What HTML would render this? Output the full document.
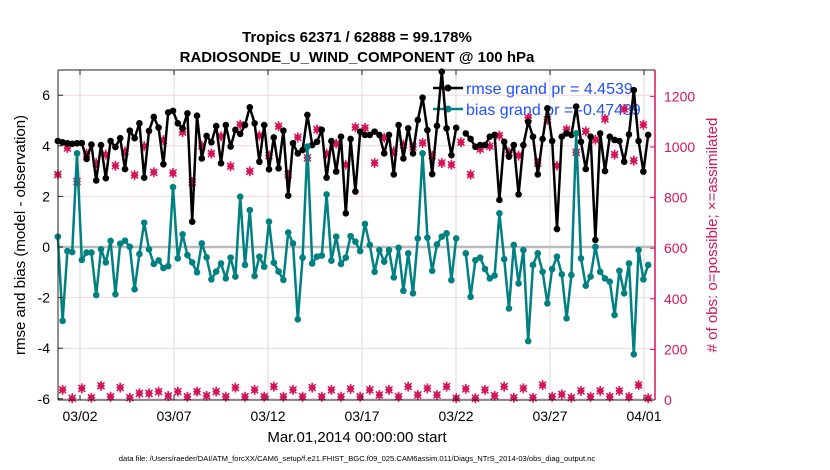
<!DOCTYPE html>
<html><head><meta charset="utf-8"><style>
body{margin:0;background:#fff;}
svg{display:block;font-family:"Liberation Sans",sans-serif;}
</style></head><body>
<svg id="chart" width="830" height="470" xmlns="http://www.w3.org/2000/svg">
<text x="357" y="42" text-anchor="middle" font-size="15" font-weight="bold">Tropics 62371 / 62888 = 99.178%</text>
<text x="357" y="62" text-anchor="middle" font-size="15" font-weight="bold">RADIOSONDE_U_WIND_COMPONENT @ 100 hPa</text>
<g id="grid"></g>
<g id="legend">
<line x1="433" y1="88" x2="463" y2="88" stroke="#000" stroke-width="2.5"/><circle cx="448" cy="88" r="3.5" fill="#000"/>
<text x="466" y="94" font-size="16" fill="#1f4fff">rmse grand pr = 4.4539</text>
<line x1="433" y1="109" x2="463" y2="109" stroke="#008080" stroke-width="2.5"/><circle cx="448" cy="109" r="3.5" fill="#008080"/>
<text x="466" y="115" font-size="16" fill="#1f4fff">bias grand pr = -0.47489</text>
</g>
<g id="marks"></g>
<g id="axes"></g>
<text x="357" y="442" text-anchor="middle" font-size="15">Mar.01,2014 00:00:00 start</text>
<text transform="translate(25,235) rotate(-90)" text-anchor="middle" font-size="15">rmse and bias (model - observation)</text>
<text transform="translate(717,235) rotate(-90)" text-anchor="middle" font-size="15" fill="#d6145a"># of obs: o=possible; ×=assimilated</text>
<text x="357" y="461" text-anchor="middle" font-size="7.6">data file: /Users/raeder/DAI/ATM_forcXX/CAM6_setup/f.e21.FHIST_BGC.f09_025.CAM6assim.011/Diags_NTrS_2014-03/obs_diag_output.nc</text>
</svg>
<script>
const rmse=[4.19,4.14,4.1,4.08,4.1,4.11,3.48,4.05,2.63,4.03,2.72,4.19,3.95,4.30,3.08,4.60,4.3,4.89,2.74,4.59,5.14,4.72,3.27,5.32,5.38,4.89,4.69,5.28,1.0,5.19,3.50,4.39,4.14,4.78,
3.31,4.82,3.97,4.63,4.47,4.82,5.52,4.89,3.37,4.82,3.07,4.33,3.11,4.60,2.03,4.10,3.70,3.83,5.22,4.03,4.16,4.63,2.74,4.19,2.98,4.36,1.33,4.27,2.19,4.56,4.43,
4.43,4.56,4.43,3.70,4.43,2.87,4.82,3.50,4.69,3.70,5.02,5.90,4.62,2.88,4.79,6.93,4.69,3.63,4.71,null,4.49,4.27,3.96,4.03,4.03,4.36,4.43,1.86,4.16,3.57,4.03,
2.08,4.03,4.95,4.36,2.87,4.27,5.48,4.19,0.71,4.36,4.49,4.43,5.55,4.16,3.08,4.36,0.28,4.49,3.0,4.36,4.23,4.19,3.37,4.45,6.20,4.19,2.98,4.43];
const bias=[0.41,-2.92,-0.16,-0.2,3.70,-0.51,-0.22,-0.22,-1.90,-0.09,-0.61,0.24,-1.87,0.13,0.25,0.01,-1.67,-0.28,0.96,-0.09,-0.67,-0.53,-0.83,-0.76,2.37,-0.45,0.50,-0.32,-0.61,-1.0,0.14,-0.41,-1.28,-0.97,
-0.65,-1.24,-0.42,-1.17,1.99,-0.71,1.46,-1.15,-0.38,-0.78,1.0,-0.62,-0.97,-1.30,0.57,0.14,-2.86,-0.42,3.97,-0.65,-0.38,-0.34,2.08,-0.54,0.41,-0.67,-0.42,0.43,0.21,-0.16,0.91,
0.08,-0.98,-0.12,-0.58,-0.12,-1.20,-0.03,-1.73,-0.25,-1.83,0.34,3.7,0.37,-0.94,0.10,0.41,0.54,-1.31,0.34,null,-0.25,-1.97,-0.52,-0.42,-0.87,-1.24,-1.13,1.33,-0.48,-2.43,0.08,
-1.44,-0.12,-3.72,-0.71,-0.25,-0.98,-2.23,-0.87,-0.38,-1.08,-2.82,-1.11,4.49,-0.45,-1.53,-1.17,0.01,-0.98,-1.24,-1.37,-2.69,-0.94,-1.83,-0.65,-4.24,-0.12,-1.28,-0.71];
const obsHigh=[891,996,864,974,937,970,926,982,889,1003,900,1027,897,1059,861,1005,974,
1042,924,1088,904,1045,966,1082,891,1038,957,1069,974,1013,930,1078,
1075,937,1036,983,1009,1000,1016,966,937,930,1019,891,992,1003,1045,979,
966,1115,937,1108,926,1069,979,1062,1029,1111,970,1150,946,1088];
const obsLow=[40,7,46,9,56,13,49,9,26,26,33,16,33,13,33,17,
33,13,49,13,40,13,53,13,40,13,49,13,40,13,44,13,
40,20,40,13,53,20,46,20,53,7,44,7,40,17,53,
9,46,9,59,13,22,9,36,13,36,13,36,13,59,7];
const xTickDays=[1,6,11,16,21,26,31];
const xTickLabels=['03/02','03/07','03/12','03/17','03/22','03/27','04/01'];
const yTicks=[-6,-4,-2,0,2,4,6];
const yRightTicks=[0,200,400,600,800,1000,1200];
const t0=-0.18, dt=0.2553;
const L=58,R=655,T=70,B=400;
const xS=d=>61.2+d*18.8;
const yS=v=>247-v*25.3;
const yR=v=>400-v*0.253;
const NS='http://www.w3.org/2000/svg';
function mk(tag,attrs,parent){const e=document.createElementNS(NS,tag);for(const k in attrs)e.setAttribute(k,attrs[k]);parent.appendChild(e);return e;}
const grid=document.getElementById('grid'),marks=document.getElementById('marks'),axes=document.getElementById('axes');
xTickDays.forEach((d,i)=>{
 const g=mk('line',{x1:xS(d),x2:xS(d),y1:T,y2:B,stroke:'#d8d8d8','stroke-width':1},grid);
 
 
 mk('line',{x1:xS(d),x2:xS(d),y1:T,y2:T+5,stroke:'#222'},axes);
 mk('line',{x1:xS(d),x2:xS(d),y1:B,y2:B-5,stroke:'#222'},axes);
 const t=mk('text',{x:xS(d),y:421,'text-anchor':'middle','font-size':14},axes);
 t.textContent=xTickLabels[i];
 
 
});
yTicks.forEach(v=>{
 const g=mk('line',{x1:L,x2:R,y1:yS(v),y2:yS(v),stroke:'#f2d4df','stroke-width':1},grid);
 
 
 mk('line',{x1:L,x2:L+5,y1:yS(v),y2:yS(v),stroke:'#222'},axes);
 const t=mk('text',{x:50,y:yS(v)+5,'text-anchor':'end','font-size':14},axes);
 t.textContent=v;
 
 
});
yRightTicks.forEach(v=>{
 mk('line',{x1:R,x2:R-5,y1:yR(v),y2:yR(v),stroke:'#d6145a'},axes);
 const t=mk('text',{x:664,y:yR(v)+5,'font-size':14,fill:'#d6145a'},axes);
 t.textContent=v;
 
 
});
const zl=mk('line',{x1:L,x2:R,y1:yS(0),y2:yS(0),stroke:'#bbb','stroke-width':2.5},grid);


mk('line',{x1:L,x2:R,y1:T,y2:T,stroke:'#222'},axes);
mk('line',{x1:L,x2:R,y1:B,y2:B,stroke:'#222'},axes);
mk('line',{x1:L,x2:L,y1:T,y2:B,stroke:'#222'},axes);
mk('line',{x1:R,x2:R,y1:T,y2:B,stroke:'#d6145a','stroke-width':1.5},axes);
const obs=[];
for(let j=0;j<obsHigh.length;j++){obs.push(obsHigh[j]);if(j<obsLow.length)obs.push(obsLow[j]);}
obs.forEach((v,i)=>{
 const x=xS(t0+i*dt),y=yR(v);
 const g=mk('g',{},marks);
 
 
 mk('path',{d:`M${x-4},${y}L${x},${y-4}L${x+4},${y}L${x},${y+4}Z`,fill:'#d6145a'},g);
 mk('path',{d:`M${x-3.5},${y-3.5}L${x+3.5},${y+3.5}M${x-3.5},${y+3.5}L${x+3.5},${y-3.5}M${x},${y-5}L${x},${y+5}`,stroke:'#d6145a','stroke-width':1.5},g);
});
function series(arr,color,name){
 let d='',pen=false;
 arr.forEach((v,i)=>{if(v===null){pen=false;return;}d+=(pen?'L':'M')+xS(t0+i*dt).toFixed(1)+','+yS(v).toFixed(1);pen=true;});
 const p=mk('path',{d:d,fill:'none',stroke:color,'stroke-width':2.5,'stroke-linejoin':'round'},marks);
 
 
 arr.forEach((v,i)=>{if(v===null)return;
  const c=mk('circle',{cx:xS(t0+i*dt),cy:yS(v),r:3.3,fill:color},marks);
  
  
 });
}
series(rmse,'#000','rmse');
series(bias,'#008080','bias');
</script>
</body></html>
